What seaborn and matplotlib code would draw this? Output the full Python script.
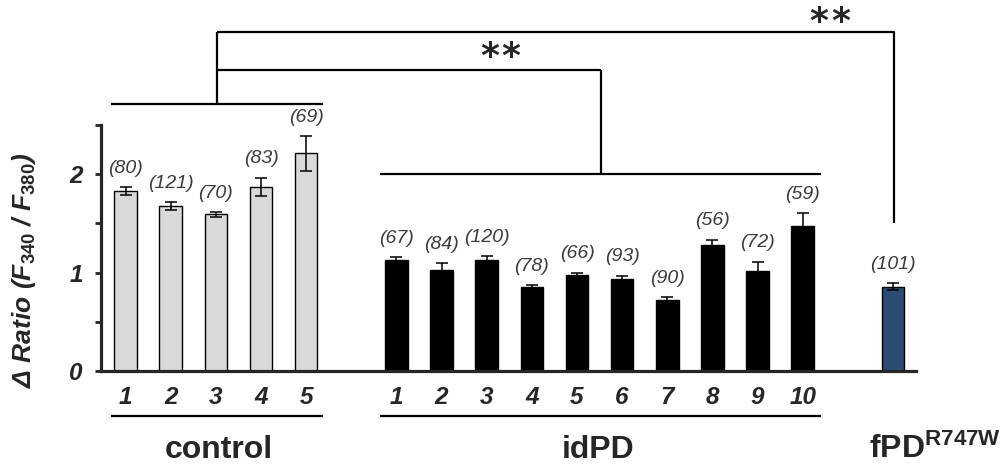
import matplotlib
matplotlib.use("Agg")
import matplotlib.pyplot as plt
import seaborn as sns
import pandas as pd

# ---------------- data ----------------
control_labels = ["1", "2", "3", "4", "5"]
control_values = [1.83, 1.675, 1.59, 1.87, 2.21]
control_errors = [0.04, 0.04, 0.025, 0.095, 0.18]
control_n = [80, 121, 70, 83, 69]

idpd_labels = ["1", "2", "3", "4", "5", "6", "7", "8", "9", "10"]
idpd_values = [1.13, 1.03, 1.13, 0.85, 0.975, 0.93, 0.72, 1.28, 1.015, 1.475]
idpd_errors = [0.025, 0.065, 0.035, 0.02, 0.025, 0.04, 0.027, 0.055, 0.095, 0.13]
idpd_n = [67, 84, 120, 78, 66, 93, 90, 56, 72, 59]

fpd_labels = [""]
fpd_values = [0.856]
fpd_errors = [0.035]
fpd_n = [101]

group_names = ["control", "idPD", "fPD"]
y_ticks = [0, 0.5, 1, 1.5, 2, 2.5]
y_ticklabels = ["0", "", "1", "", "2", ""]

# ---------------- style ----------------
sns.set_theme(style="ticks")
plt.rcParams["font.family"] = ["Liberation Sans", "DejaVu Sans"]
plt.rcParams["mathtext.fontset"] = "custom"
plt.rcParams["mathtext.rm"] = "Liberation Sans:bold"
plt.rcParams["mathtext.it"] = "Liberation Sans:italic:bold"
plt.rcParams["mathtext.bf"] = "Liberation Sans:bold"

colors = {"control": "#d9d9d9", "idPD": "#000000", "fPD": "#1f4a7e"}

# table
rows = []
for g, labs, vals, errs, ns in [
    ("control", control_labels, control_values, control_errors, control_n),
    ("idPD", idpd_labels, idpd_values, idpd_errors, idpd_n),
    ("fPD", fpd_labels, fpd_values, fpd_errors, fpd_n),
]:
    for lab, v, e, n in zip(labs, vals, errs, ns):
        rows.append({"slot": f"{g}_{lab}", "label": lab, "group": g,
                     "value": v, "err": e, "n": n})
df = pd.DataFrame(rows)

order = ([f"control_{l}" for l in control_labels] + ["gap1"] +
         [f"idPD_{l}" for l in idpd_labels] + ["gap2"] +
         [f"fPD_{l}" for l in fpd_labels])
tick_text = control_labels + [""] + idpd_labels + [""] + fpd_labels

fig = plt.figure(figsize=(10.08, 4.66), dpi=100)
ax = fig.add_axes([0.1002, 0.2039, 0.8085, 0.528])

sns.barplot(data=df, x="slot", y="value", hue="group", order=order,
            palette=colors, dodge=False, width=0.5, errorbar=None,
            edgecolor="black", linewidth=1.0, legend=False, ax=ax)

pos = [order.index(s) for s in df["slot"]]
ax.errorbar(pos, df["value"], yerr=df["err"], fmt="none", ecolor="black",
            elinewidth=1.1, capsize=4.3, capthick=1.1, zorder=5)

for x, v, e, n in zip(pos, df["value"], df["err"], df["n"]):
    ax.annotate(f"({n})", (x, v + e), xytext=(0, 13.5), textcoords="offset points",
                ha="center", va="center", fontsize=14, style="italic",
                color="#3a3a3a")

ax.set_xlim(-0.545, 17.51)
ax.set_ylim(0, 2.5)
ax.set_yticks(y_ticks)
ax.set_yticklabels(y_ticklabels, fontsize=17.5, fontweight="bold", style="italic")
ax.set_xticks(range(len(order)))
ax.set_xticklabels(tick_text, fontsize=17.5, fontweight="bold", style="italic")
ax.tick_params(axis="x", length=0, pad=11)
ax.tick_params(axis="y", direction="out", length=4, width=2, pad=9)
for s in ["top", "right"]:
    ax.spines[s].set_visible(False)
ax.spines["left"].set_linewidth(2.3)
ax.spines["bottom"].set_linewidth(2.3)
ax.spines["bottom"].set_zorder(6)
ax.set_xlabel("")
ax.set_ylabel(r"Δ Ratio ($F_{\mathit{340}}$ / $F_{\mathit{380}}$)",
              fontsize=19, fontweight="bold", style="italic")
ax.yaxis.set_label_coords(-0.094, 0.41)
ax.yaxis.label.set_va("center")

# brackets / underlines
lk = dict(color="black", lw=1.6, clip_on=False, solid_capstyle="butt")
# control bracket
ax.plot([-0.33, 4.37], [2.71, 2.71], **lk)
ax.plot([2.02, 2.02], [2.71, 3.44], **lk)
# idPD bracket
ax.plot([5.63, 15.40], [2.005, 2.005], **lk)
ax.plot([10.53, 10.53], [2.005, 3.06], **lk)
ax.plot([2.02, 10.53], [3.06, 3.06], **lk)
# fPD
ax.plot([2.02, 17.02, 17.02], [3.44, 3.44, 1.50], **lk)
# stars (significance marks)
for cx, cy in [(8.30, 3.19), (15.6, 3.55)]:
    for dx in (-0.24, 0.24):
        ax.text(cx + dx, cy, "*", ha="center", va="center", fontsize=26,
                fontweight="bold", family="DejaVu Sans", clip_on=False)
# underlines below numbers
ax.plot([-0.33, 4.37], [-0.46, -0.46], **lk)
ax.plot([5.63, 15.40], [-0.46, -0.46], **lk)

# group labels
ax.text(2.07, -0.80, group_names[0], ha="center", va="center", fontsize=23,
        fontweight="bold", clip_on=False)
ax.text(10.47, -0.80, group_names[1], ha="center", va="center", fontsize=23,
        fontweight="bold", clip_on=False)
ax.text(16.48, -0.80, group_names[2] + r"$^{\mathrm{R747W}}$", ha="left",
        va="center", fontsize=23, fontweight="bold", clip_on=False)

fig.savefig("out.png", dpi=100)
